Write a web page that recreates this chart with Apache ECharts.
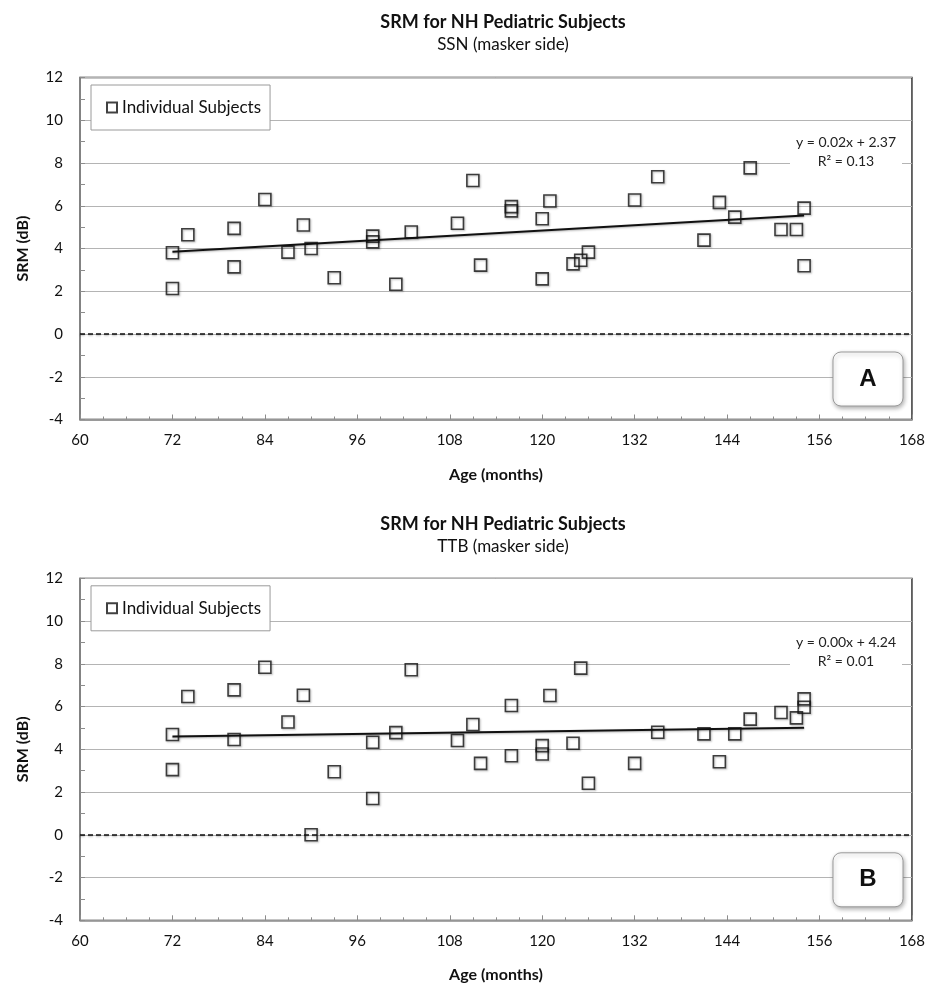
<!DOCTYPE html>
<html>
<head>
<meta charset="utf-8">
<title>SRM for NH Pediatric Subjects</title>
<script src="https://cdn.jsdelivr.net/npm/echarts@6/dist/echarts.min.js"></script>
<style>
  html, body { margin: 0; padding: 0; background: #fff; }
  #chart { width: 928px; height: 992px; }
</style>
</head>
<body>
<div id="chart"></div>
<script>
// Subject ages (months), shared by both masker conditions
const ages = [72, 72, 74, 80, 80, 84, 87, 89, 90, 93, 98, 98, 101, 103, 109, 111, 112,
  116, 116, 120, 120, 121, 124, 125, 126, 132, 135, 141, 143, 145, 147, 151, 153, 154, 154];

// Spatial release from masking (dB), SSN masker
const srmSSN = [3.80, 2.13, 4.64, 4.94, 3.14, 6.29, 3.83, 5.10, 4.00, 2.63, 4.58, 4.31, 2.33, 4.77, 5.18, 7.18, 3.22,
  5.96, 5.76, 5.39, 2.58, 6.22, 3.28, 3.45, 3.83, 6.27, 7.36, 4.39, 6.16, 5.47, 7.77, 4.89, 4.89, 5.89, 3.19];

// Spatial release from masking (dB), TTB masker
const srmTTB = [4.69, 3.05, 6.47, 6.78, 4.46, 7.84, 5.28, 6.53, 0.00, 2.95, 4.33, 1.70, 4.78, 7.72, 4.41, 5.16, 3.34,
  6.05, 3.70, 4.17, 3.78, 6.52, 4.28, 7.80, 2.41, 3.34, 4.80, 4.72, 3.42, 4.72, 5.41, 5.72, 5.47, 6.36, 5.97];

const panelTitle = 'SRM for NH Pediatric Subjects';
const panelSubtitles = ['SSN (masker side)', 'TTB (masker side)'];
const panelLetters = ['A', 'B'];
const seriesName = 'Individual Subjects';

// Ordinary least-squares fit
function linearFit(xs, ys) {
  const n = xs.length;
  const mx = xs.reduce((s, v) => s + v, 0) / n;
  const my = ys.reduce((s, v) => s + v, 0) / n;
  let sxy = 0, sxx = 0, syy = 0;
  for (let i = 0; i < n; i++) {
    sxy += (xs[i] - mx) * (ys[i] - my);
    sxx += (xs[i] - mx) ** 2;
    syy += (ys[i] - my) ** 2;
  }
  const slope = sxy / sxx;
  return { slope, intercept: my - slope * mx, r2: (sxy * sxy) / (sxx * syy) };
}

const FONT = 'Lato, "Open Sans", sans-serif';
const xMin = Math.min(...ages), xMax = Math.max(...ages);

const panels = [
  { values: srmSSN, top: 77.5 },
  { values: srmTTB, top: 578.3 }
];
const plotLeft = 80, plotWidth = 832, plotHeight = 342;

const grids = [], xAxes = [], yAxes = [], series = [], titles = [], legends = [], graphics = [];

panels.forEach((p, i) => {
  const fit = linearFit(ages, p.values);
  const offsetY = p.top - 77.5;

  grids.push({
    left: plotLeft, top: p.top, width: plotWidth, height: plotHeight,
    show: true, borderColor: '#1a1a1a', borderWidth: 1.3, backgroundColor: '#fff'
  });

  xAxes.push({
    gridIndex: i, type: 'value', min: 60, max: 168, interval: 12,
    name: 'Age (months)', nameLocation: 'middle', nameGap: 47,
    nameTextStyle: { fontFamily: FONT, fontWeight: 'bold', fontSize: 16, color: '#111' },
    axisLine: { show: true, onZero: false, lineStyle: { color: '#8c8c8c', width: 1.5 } },
    axisTick: { show: true, inside: true, length: 5, lineStyle: { color: '#8c8c8c' } },
    minorTick: { show: true, splitNumber: 4, length: 3, lineStyle: { color: '#8c8c8c' } },
    splitLine: { show: false },
    axisLabel: { fontFamily: FONT, fontSize: 15, color: '#111', margin: 13 }
  });

  yAxes.push({
    gridIndex: i, type: 'value', min: -4, max: 12, interval: 2,
    name: 'SRM (dB)', nameLocation: 'middle', nameGap: 49,
    nameTextStyle: { fontFamily: FONT, fontWeight: 'bold', fontSize: 16, color: '#111' },
    axisLine: { show: true, lineStyle: { color: '#8c8c8c', width: 1.5 } },
    axisTick: { show: true, inside: true, length: 5, lineStyle: { color: '#8c8c8c' } },
    minorTick: { show: true, splitNumber: 2, length: 5, lineStyle: { color: '#8c8c8c' } },
    splitLine: { show: true, lineStyle: { color: '#b4b4b4', width: 1 } },
    axisLabel: { fontFamily: FONT, fontSize: 15, color: '#111', margin: 17 }
  });

  series.push({
    name: seriesName, type: 'scatter', xAxisIndex: i, yAxisIndex: i,
    symbol: 'rect', symbolSize: 12,
    itemStyle: {
      color: 'rgba(255,255,255,0)', borderColor: '#111', borderWidth: 1.6,
      shadowColor: 'rgba(0,0,0,0.35)', shadowBlur: 2, shadowOffsetX: 1, shadowOffsetY: 1
    },
    emphasis: { disabled: true },
    data: ages.map((a, k) => [a, p.values[k]]),
    z: 4,
    markLine: {
      silent: true, symbol: 'none', label: { show: false },
      lineStyle: {
        color: '#111', type: [5, 3], width: 1.6,
        shadowColor: 'rgba(0,0,0,0.3)', shadowBlur: 2, shadowOffsetY: 1
      },
      data: [{ yAxis: 0 }]
    }
  });

  series.push({
    name: 'Linear fit', type: 'line', xAxisIndex: i, yAxisIndex: i,
    showSymbol: false, silent: true,
    lineStyle: {
      color: '#111', width: 2,
      shadowColor: 'rgba(0,0,0,0.3)', shadowBlur: 2, shadowOffsetY: 1
    },
    data: [[xMin, fit.intercept + fit.slope * xMin], [xMax, fit.intercept + fit.slope * xMax]],
    z: 3
  });

  titles.push({
    text: panelTitle, subtext: panelSubtitles[i],
    left: 498, textAlign: 'center', top: 8 + offsetY + (i ? 1 : 0), itemGap: 5,
    textStyle: { fontFamily: FONT, fontWeight: 'bold', fontSize: 18, color: '#111' },
    subtextStyle: { fontFamily: FONT, fontSize: 17, color: '#111' }
  });

  legends.push({
    data: [seriesName], left: 91, top: 85 + offsetY,
    orient: 'vertical', selectedMode: false,
    backgroundColor: '#fff', borderColor: '#9a9a9a', borderWidth: 1,
    padding: [14, 9, 14, 15], itemWidth: 10, itemHeight: 10,
    textStyle: { fontFamily: FONT, fontSize: 17, color: '#111' }
  });

  // Fit equation with white backing over the grid line
  const eq = 'y = ' + fit.slope.toFixed(2) + 'x + ' + fit.intercept.toFixed(2) +
    '\nR\u00B2 = ' + fit.r2.toFixed(2);
  graphics.push({
    type: 'rect', shape: { x: 790, y: 131 + offsetY, width: 112, height: 40 },
    style: { fill: '#fff' }, z: 10, silent: true
  });
  graphics.push({
    type: 'text', x: 846, y: 132.5 + offsetY, z: 11, silent: true,
    style: {
      text: eq, align: 'center', verticalAlign: 'top', lineHeight: 19,
      font: '14px ' + FONT, fill: '#222'
    }
  });

  // Panel letter box
  graphics.push({
    type: 'rect', z: 10, silent: true,
    shape: { x: 833, y: 352 + offsetY, width: 70, height: 54, r: 8 },
    style: {
      fill: '#fff', stroke: '#9a9a9a', lineWidth: 1,
      shadowColor: 'rgba(0,0,0,0.3)', shadowBlur: 4, shadowOffsetX: 1, shadowOffsetY: 2
    }
  });
  graphics.push({
    type: 'text', x: 868, y: 379 + offsetY, z: 11, silent: true,
    style: {
      text: panelLetters[i], align: 'center', verticalAlign: 'middle',
      font: 'bold 24px "Liberation Sans", Arial, sans-serif', fill: '#111'
    }
  });
});

const chart = echarts.init(document.getElementById('chart'), null, { renderer: 'canvas' });
chart.setOption({
  animation: false,
  backgroundColor: '#fff',
  title: titles,
  legend: legends,
  grid: grids,
  xAxis: xAxes,
  yAxis: yAxes,
  series: series,
  graphic: graphics
});
</script>
</body>
</html>
